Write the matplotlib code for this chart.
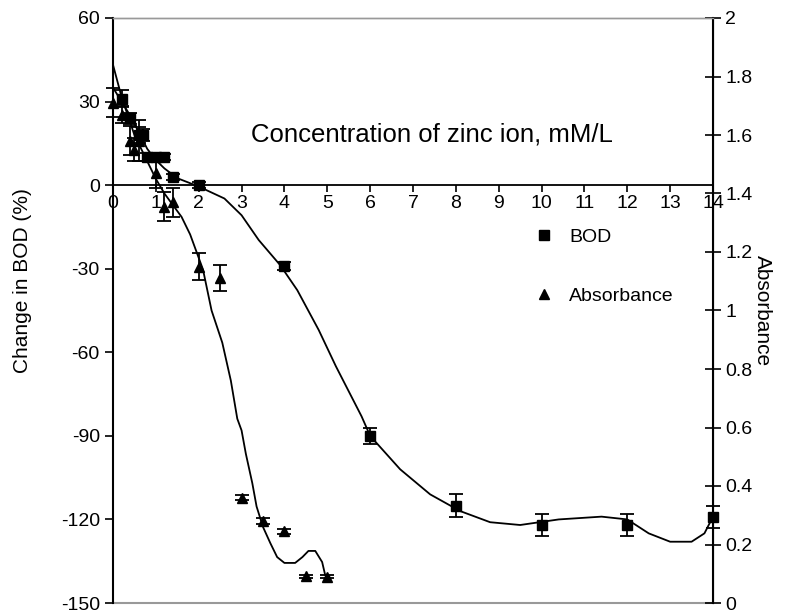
import numpy as np
import matplotlib.pyplot as plt
from matplotlib.lines import Line2D
from matplotlib.ticker import FuncFormatter, MultipleLocator

plt.rcParams['font.family'] = ['Liberation Sans', 'DejaVu Sans']
plt.rcParams['font.size'] = 14
plt.rcParams['axes.unicode_minus'] = False

# BOD measurements (left axis, %)
bod_x = [0.2, 0.4, 0.6, 0.7, 0.8, 1.0, 1.2, 1.4, 2, 4, 6, 8, 10, 12, 14]
bod_y = [31, 24, 18, 18, 10, 10, 10, 3, 0, -29, -90, -115, -122, -122, -119]
bod_err = [3, 2, 3, 2, 1.5, 1.5, 1, 1, 1, 1.5, 3, 4, 4, 4, 4]

# absorbance measurements (right axis)
abs_x = [0, 0.2, 0.4, 0.5, 0.6, 1.0, 1.2, 1.4, 2.0, 2.5, 3.0, 3.5, 4.0, 4.5, 5.0]
abs_y = [1.71, 1.67, 1.58, 1.55, 1.58, 1.47, 1.355, 1.37, 1.15, 1.11, 0.36, 0.28, 0.245, 0.092, 0.09]
abs_err = [0.05, 0.03, 0.05, 0.04, 0.07, 0.05, 0.05, 0.05, 0.045, 0.045, 0.008, 0.01, 0.008, 0.005, 0.005]

# smoothed trend curves
bod_curve_x = [0, 0.2, 0.4, 0.6, 0.8, 1.0, 1.2, 1.5, 2.0, 2.6, 3.0, 3.4, 3.9, 4.3, 4.8,
               5.2, 5.8, 6.0, 6.7, 7.4, 8.1, 8.8, 9.5, 10.4, 11.4, 12.0, 12.5, 13.0, 13.5, 13.8, 14]
bod_curve_y = [35, 30, 25, 19, 13, 9, 6, 2.5, -0.5, -4.8, -10.8, -19.7, -28.7, -37.7, -52,
               -65, -83, -90, -102, -111, -117, -121, -122, -120, -119, -120, -125, -128, -128, -125, -119]

abs_curve_x = [0, 0.2, 0.5, 0.8, 1.0, 1.2, 1.4, 1.6, 1.8, 1.9, 2.1, 2.3, 2.55, 2.75, 2.9, 3.0,
               3.1, 3.25, 3.35, 3.5, 3.67, 3.83, 4.0, 4.25, 4.42, 4.56, 4.72, 4.88, 4.95]
abs_curve_y = [1.84, 1.73, 1.6, 1.51, 1.45, 1.4, 1.36, 1.32, 1.26, 1.22, 1.14, 1.0, 0.89, 0.76, 0.63, 0.59,
               0.51, 0.41, 0.33, 0.26, 0.205, 0.157, 0.137, 0.137, 0.157, 0.178, 0.178, 0.14, 0.096]

fig = plt.figure(figsize=(7.99, 6.15), dpi=100)
ax = fig.add_axes([113 / 799, 12 / 615, 600 / 799, 585 / 615])
ax2 = ax.twinx()

ax.plot(bod_curve_x, bod_curve_y, color='black', lw=1.3)
ax.errorbar(bod_x, bod_y, yerr=bod_err, fmt='s', color='black', ms=6.5,
            capsize=5, elinewidth=1.3, capthick=1.3, clip_on=False)

ax2.plot(abs_curve_x, abs_curve_y, color='black', lw=1.3)
ax2.errorbar(abs_x, abs_y, yerr=abs_err, fmt='^', color='black', ms=7.5,
             capsize=5, elinewidth=1.3, capthick=1.3, clip_on=False)

ax.set_xlim(0, 14)
ax.set_ylim(-150, 60)
ax2.set_ylim(0, 2)
ax.set_yticks(np.arange(-150, 61, 30))
ax.xaxis.set_major_locator(MultipleLocator(1))
ax2.yaxis.set_major_locator(MultipleLocator(0.2))
ax2.yaxis.set_major_formatter(FuncFormatter(lambda v, p: '%g' % round(v, 1)))

# x axis crosses at zero
ax.spines['bottom'].set_position(('data', 0))
ax.spines['bottom'].set_linewidth(1.3)
for a in (ax, ax2):
    a.spines['top'].set_color('#999999')
    a.spines['top'].set_linewidth(1)
ax2.spines['bottom'].set_visible(False)
ax.spines['left'].set_linewidth(1.5)
ax2.spines['right'].set_linewidth(1.5)
ax2.spines['left'].set_visible(False)

# grey frame line at the bottom
ax.axhline(-150, color='#999999', lw=1.5, clip_on=False)

ax.tick_params(axis='x', direction='out', length=5, width=1.2, labelsize=14, pad=2)
ax.tick_params(axis='y', direction='out', length=6, width=1.2, labelsize=14)
ax2.tick_params(axis='y', direction='inout', length=11, width=1.2, labelsize=14)

ax.set_ylabel('Change in BOD (%)', fontsize=15)
ax.yaxis.set_label_coords(-0.135, 0.552)
ax2.set_ylabel('Absorbance', fontsize=15, rotation=-90, va='center')
ax2.yaxis.set_label_coords(1.082, 0.5)

ax.text(7.45, 18, 'Concentration of zinc ion, mM/L', fontsize=18.5, ha='center', va='center')

handles = [Line2D([], [], ls='none', marker='s', color='black', ms=6.5),
           Line2D([], [], ls='none', marker='^', color='black', ms=7.5)]
ax2.legend(handles, ['BOD', 'Absorbance'], loc='center left', bbox_to_anchor=(0.673, 0.575),
           frameon=False, handlelength=1.0, handletextpad=0.8, labelspacing=2.1, fontsize=14)

fig.savefig('out.png', dpi=100)
